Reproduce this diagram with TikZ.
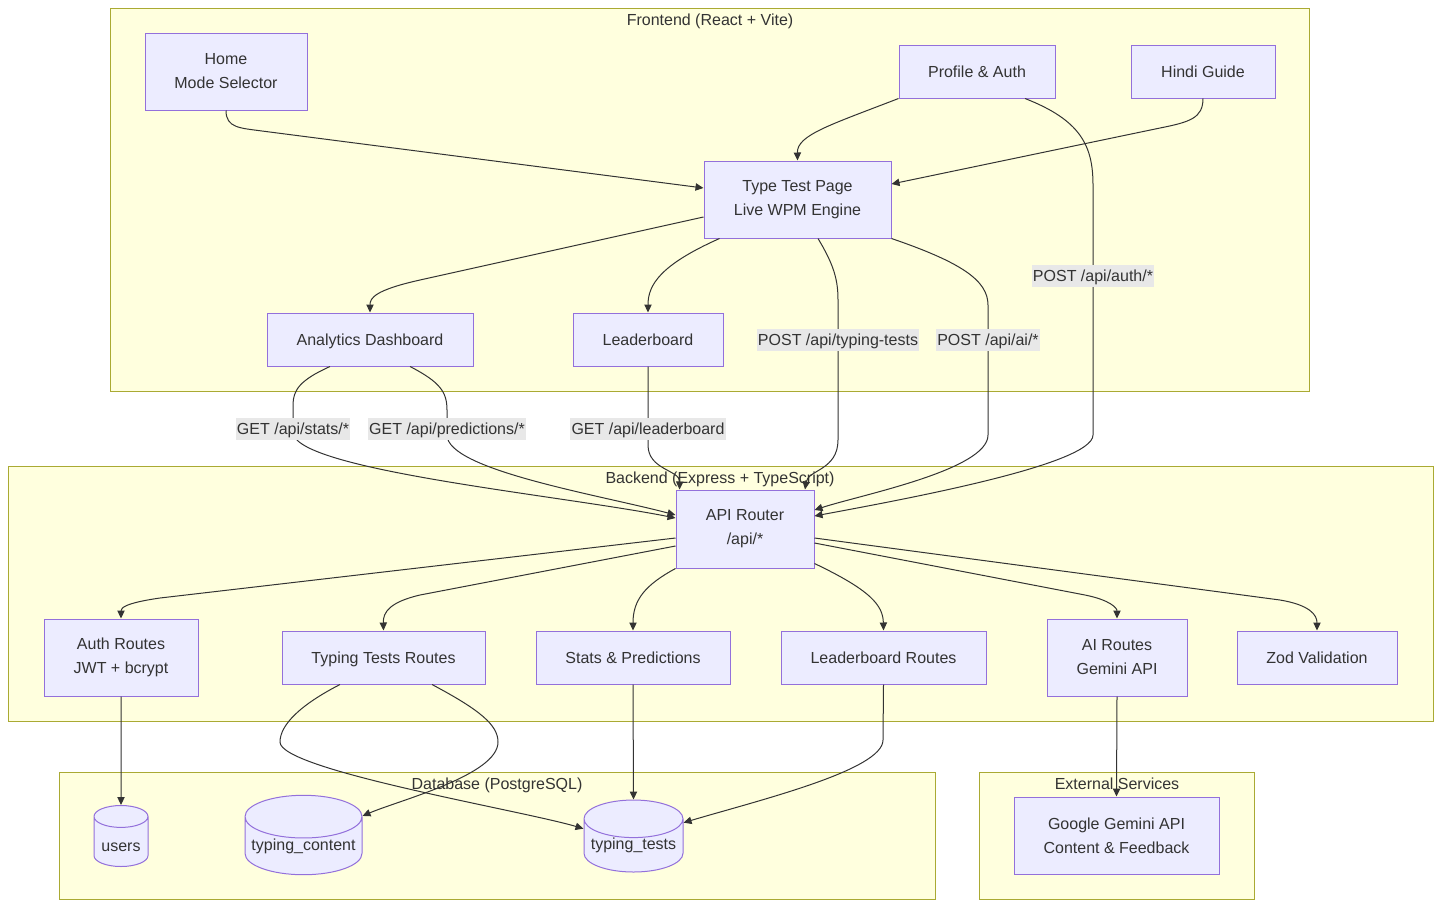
\documentclass[tikz,border=0pt]{standalone}
\usepackage{fontspec}
\setmainfont{Liberation Sans}
\usetikzlibrary{arrows.meta,positioning,shapes.geometric,calc}
\definecolor{lilac}{HTML}{ECECFF}
\definecolor{violet}{HTML}{9370DB}
\definecolor{cream}{HTML}{FFFFDE}
\definecolor{olive}{HTML}{AAAA33}
\definecolor{ink}{HTML}{333333}
\definecolor{chip}{HTML}{E8E8E8}
\tikzset{
  >={Triangle[length=6pt,width=5.5pt]},
  sz/.style 2 args={minimum width=#1*0.75pt,minimum height=#2*0.75pt},
  box/.style={draw=violet,fill=lilac,line width=0.75pt,inner sep=0pt,align=center,
    text=ink,font=\fontsize{12}{18}\selectfont},
  oneline/.style={text height=8.6pt,text depth=0pt},
  db/.style={cylinder,shape border rotate=90,shape aspect=#1,anchor=shape center,
    draw=violet,fill=lilac,line width=0.75pt,inner sep=0pt,text=ink,
    font=\fontsize{12}{14}\selectfont},
  db/.default=0.5,
  grp/.style={draw=olive,fill=cream,line width=0.75pt,inner sep=0pt},
  grptitle/.style={anchor=base,text=ink,font=\fontsize{12}{14}\selectfont},
  chiplbl/.style={fill=chip,text=ink,font=\fontsize{12}{14}\selectfont,oneline,
    inner xsep=1pt,inner ysep=0pt,minimum height=16.5pt},
  flow/.style={->,draw=ink,line width=0.75pt},
}

\begin{document}
\begin{tikzpicture}[x=0.75pt,y=-0.75pt]
  \useasboundingbox (0,0) rectangle (1441,908);
  % clusters
  \node[grp,sz={1199}{383}] (front) at (709.5,199.5) {};
  \node[grp,sz={1425}{255}] (back) at (720.5,593.5) {};
  \node[grp,sz={876}{127}] (store) at (497,835.5) {};
  \node[grp,sz={275}{127}] (ext) at (1116.5,835.5) {};
  \node[grptitle] (front-t) at (710,25) {Frontend (React + Vite)};
  \node[grptitle] (back-t) at (720,483) {Backend (Express + TypeScript)};
  \node[grptitle] (store-t) at (497,789) {Database (PostgreSQL)};
  \node[grptitle] (ext-t) at (1117,789) {External Services};

  % frontend
  \node[box,sz={162}{77}] (home) at (226,71.5) {Home\\Mode Selector};
  \node[box,oneline,sz={156}{53}] (profile) at (977,71.5) {Profile \& Auth};
  \node[box,oneline,sz={144}{53}] (hindi) at (1203,71.5) {Hindi Guide};
  \node[box,sz={187}{77}] (typetest) at (797.5,199.5) {Type Test Page\\Live WPM Engine};
  \node[box,oneline,sz={206}{53}] (dash) at (370,339.5) {Analytics Dashboard};
  \node[box,oneline,sz={150}{53}] (board) at (648,339.5) {Leaderboard};

  % backend
  \node[box,sz={138}{78}] (router) at (745,529) {API Router\\/api/*};
  \node[box,sz={154}{77}] (authr) at (121,657.5) {Auth Routes\\JWT + bcrypt};
  \node[box,oneline,sz={203}{53}] (testr) at (383.5,657.5) {Typing Tests Routes};
  \node[box,oneline,sz={194}{53}] (statr) at (633,657.5) {Stats \& Predictions};
  \node[box,oneline,sz={205}{53}] (boardr) at (883.5,657.5) {Leaderboard Routes};
  \node[box,sz={140}{77}] (air) at (1117,657.5) {AI Routes\\Gemini API};
  \node[box,oneline,sz={160}{53}] (zod) at (1317,657.5) {Zod Validation};

  % database + external
  \node[db=0.56,sz={54}{61},text height=15pt,text depth=0pt] (users) at (121,836) {users};
  \node[db=0.41,sz={117}{74}] (tcontent) at (303.5,835) {typing\_content};
  \node[db=0.44,sz={99}{72}] (ttests) at (633.5,836) {typing\_tests};
  \node[box,sz={205}{77}] (gemini) at (1116.5,835.5) {Google Gemini API\\Content \& Feedback};

  % frontend flows
  \draw[flow] (home.south) .. controls (226,128) and (240,128) .. (262,131)
    -- ($(typetest.west)+(0,-11.5)$);
  \draw[flow] (profile.south west) .. controls (830,125) and (797,135) .. (typetest.north);
  \draw[flow] (hindi.south) .. controls (1203,118) and (1190,122) .. (1160,128)
    -- ($(typetest.east)+(0,-15.5)$);
  \draw[flow] ($(typetest.west)+(0,17.5)$) -- (420,280) .. controls (375,290) and (370,298) .. (dash.north);
  \draw[flow] ($(typetest.south west)+(16,0)$) .. controls (660,265) and (648,285) .. (board.north);

  % calls into the router
  \draw[flow] ($(typetest.south)+(20.5,0)$) .. controls (834,265) and (838,280) .. (838,300)
    -- (838,440) .. controls (838,470) and (808,470) .. ($(router.north)+(60,0)$);
  \draw[flow] (typetest.south east) .. controls (960,262) and (988,280) .. (988,305)
    -- (988,435) .. controls (988,470) and (860,495) .. ($(router.east)+(0,-19)$);
  \draw[flow] ($(profile.south)+(48,0)$) .. controls (1080,120) and (1093,145) .. (1093,185)
    -- (1093,435) .. controls (1093,465) and (900,500) .. ($(router.east)+(0,-13)$);
  \draw[flow] ($(dash.south)+(-40,0)$) .. controls (300,380) and (293,390) .. (293,405)
    -- (293,432) .. controls (293,470) and (560,495) .. ($(router.west)+(0,-11)$);
  \draw[flow] ($(dash.south)+(40,0)$) .. controls (440,382) and (447,392) .. (447,410)
    -- (447,435) .. controls (447,470) and (600,495) .. ($(router.west)+(0,-14)$);
  \draw[flow] (board.south) -- (648,445) .. controls (648,470) and (680,470) .. ($(router.north west)+(4,0)$);

  % router fan-out
  \draw[flow] ($(router.west)+(0,9)$) -- (160,598) .. controls (125,603) and (121,608) .. (authr.north);
  \draw[flow] ($(router.west)+(0,17)$) -- (420,595) .. controls (390,602) and (383,612) .. (testr.north);
  \draw[flow] (router.south west) .. controls (645,585) and (633,600) .. (statr.north);
  \draw[flow] ($(router.south east)+(0,-5)$) .. controls (870,590) and (883,605) .. (boardr.north);
  \draw[flow] ($(router.east)+(0,14)$) -- (1085,595) .. controls (1110,600) and (1117,608) .. (air.north);
  \draw[flow] ($(router.east)+(0,9)$) -- (1280,600) .. controls (1310,605) and (1317,615) .. (zod.north);

  % storage + services
  \draw[flow] (authr.south) -- (users.north);
  \draw[flow] ($(testr.south)+(48.5,0)$) .. controls (480,710) and (498,725) .. (498,742)
    .. controls (498,775) and (400,800) .. ($(tcontent.east)+(0,-30)$);
  \draw[flow] ($(testr.south)+(-43.5,0)$) .. controls (300,705) and (280,725) .. (280,742)
    .. controls (280,770) and (520,810) .. ($(ttests.west)+(0,-17)$);
  \draw[flow] (statr.south) -- (ttests.north);
  \draw[flow] (boardr.south) -- (883,740) .. controls (883,770) and (760,800) .. ($(ttests.east)+(0,-23)$);
  \draw[flow] (air.south) -- (gemini.north);

  % edge labels
  \node[chiplbl] (l-auth) at (1093,275.5) {POST /api/auth/*};
  \node[chiplbl] (l-tests) at (838,339.5) {POST /api/typing-tests};
  \node[chiplbl] (l-ai) at (988,339.5) {POST /api/ai/*};
  \node[chiplbl] (l-stats) at (293,428.5) {GET /api/stats/*};
  \node[chiplbl] (l-pred) at (447,428.5) {GET /api/predictions/*};
  \node[chiplbl] (l-board) at (648,428.5) {GET /api/leaderboard};
\end{tikzpicture}
\end{document}
